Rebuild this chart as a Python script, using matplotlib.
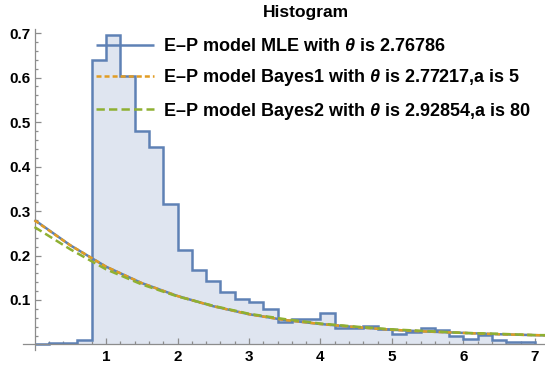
import numpy as np
import matplotlib
matplotlib.use("Agg")
import matplotlib.pyplot as plt
from matplotlib.ticker import FixedLocator, FuncFormatter

plt.rcParams["font.family"] = ["Liberation Sans", "DejaVu Sans"]
plt.rcParams["font.weight"] = "bold"
plt.rcParams["mathtext.fontset"] = "custom"
plt.rcParams["mathtext.it"] = "Liberation Sans:italic:bold"
plt.rcParams["mathtext.rm"] = "Liberation Sans:bold"
plt.rcParams["lines.scale_dashes"] = False

# Histogram of the sample (density scale), bins of width 0.2 starting at 0
bin_width = 0.2
bin_start = 0.0
densities = [
    0.001, 0.004, 0.003, 0.009,
    0.639, 0.696, 0.603, 0.480, 0.444,
    0.316, 0.212, 0.168, 0.143, 0.117,
    0.102, 0.095, 0.079, 0.050, 0.057,
    0.057, 0.070, 0.036, 0.036, 0.042,
    0.034, 0.023, 0.027, 0.036, 0.033,
    0.018, 0.012, 0.022, 0.009, 0.006, 0.006,
]

# Fitted E-P model densities evaluated along x
curve_x = [0.0, 0.5, 1.0, 1.5, 2.0, 2.5, 3.0, 3.5, 4.0, 4.5, 5.0, 5.5, 6.0, 6.5, 7.0, 7.15]
mle_pdf = [0.280, 0.223, 0.175, 0.138, 0.109, 0.086, 0.068, 0.055, 0.046,
           0.039, 0.033, 0.029, 0.026, 0.023, 0.021, 0.0205]
bayes1_pdf = [0.279, 0.223, 0.175, 0.138, 0.109, 0.086, 0.068, 0.055, 0.046,
              0.039, 0.033, 0.029, 0.026, 0.023, 0.021, 0.0205]
bayes2_pdf = [0.264, 0.214, 0.169, 0.135, 0.108, 0.087, 0.069, 0.057, 0.047,
              0.040, 0.034, 0.030, 0.026, 0.024, 0.021, 0.021]

theta_values = ["2.76786", "2.77217", "2.92854"]
prior_a = ["5", "80"]

labels = [
    "E\u2013P model MLE with $\\theta$ is " + theta_values[0],
    "E\u2013P model Bayes1 with $\\theta$ is " + theta_values[1] + ",a is " + prior_a[0],
    "E\u2013P model Bayes2 with $\\theta$ is " + theta_values[2] + ",a is " + prior_a[1],
]

blue = "#5e81b5"
orange = "#e19c24"
green = "#8fb032"
fill_col = "#dfe5f0"
axis_col = "#8c8c8c"

fig = plt.figure(figsize=(5.45, 3.65), dpi=100)
W, H = 545.0, 365.0
ax = fig.add_axes([23 / W, 1 - 350 / H, (545 - 23) / W, (350 - 29.3) / H])

edges = bin_start + bin_width * np.arange(len(densities) + 1)
ax.stairs(densities, edges, fill=True, color=fill_col, zorder=1)
ax.stairs(densities, edges, baseline=0, color=blue, lw=1.8, zorder=2)

l1, = ax.plot(curve_x, mle_pdf, color=blue, lw=1.8, zorder=3, solid_capstyle="butt")
l2, = ax.plot(curve_x, bayes1_pdf, color=orange, lw=1.8, zorder=4,
              linestyle=(0, (3.6, 2.2)), dash_capstyle="butt")
l3, = ax.plot(curve_x, bayes2_pdf, color=green, lw=1.8, zorder=5,
              linestyle=(0, (6.0, 3.0)), dash_capstyle="butt")

ax.set_xlim(-0.161, 7.14)
ax.set_ylim(-0.0124, 0.7085)

for s in ["top", "right"]:
    ax.spines[s].set_visible(False)
ax.spines["left"].set_position(("data", 0))
ax.spines["bottom"].set_position(("data", 0))
for s in ["left", "bottom"]:
    ax.spines[s].set_color(axis_col)
    ax.spines[s].set_linewidth(0.9)

ax.xaxis.set_major_locator(FixedLocator([1, 2, 3, 4, 5, 6, 7]))
ax.xaxis.set_minor_locator(FixedLocator([v / 5 for v in range(1, 36) if v % 5]))
ax.yaxis.set_major_locator(FixedLocator([0.1, 0.2, 0.3, 0.4, 0.5, 0.6, 0.7]))
ax.yaxis.set_minor_locator(FixedLocator([v / 50 for v in range(1, 36) if v % 5]))
ax.xaxis.set_major_formatter(FuncFormatter(lambda v, p: f"{v:g}"))
ax.yaxis.set_major_formatter(FuncFormatter(lambda v, p: f"{v:.1f}"))

ax.tick_params(which="both", direction="in", color=axis_col, width=0.9)
ax.tick_params(which="major", length=4, labelsize=11)
ax.tick_params(which="minor", length=2.2)
ax.tick_params(axis="x", which="major", pad=4)
ax.tick_params(axis="y", which="major", pad=3)
for t in ax.get_xticklabels() + ax.get_yticklabels():
    t.set_fontweight("bold")

fig.text(306 / W, 1 - 12 / H, "Histogram", ha="center", va="center",
         fontsize=12.5, fontweight="bold")

leg = ax.legend([l1, l2, l3], labels, loc="upper left",
                bbox_to_anchor=(96 / W, 1 - 38 / H), bbox_transform=fig.transFigure,
                frameon=False, fontsize=13, handlelength=3.2, handletextpad=0.5,
                labelspacing=0.68, borderpad=0, borderaxespad=0)
for t in leg.get_texts():
    t.set_fontweight("bold")

fig.savefig("out.png", dpi=100)
